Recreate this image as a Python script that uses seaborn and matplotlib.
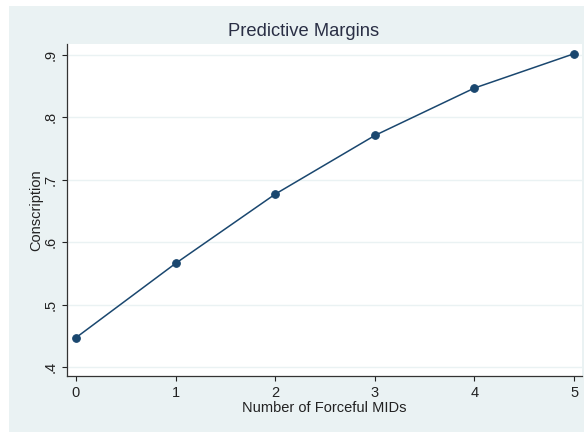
import matplotlib
matplotlib.use("Agg")
import matplotlib.pyplot as plt
import seaborn as sns
import pandas as pd
from matplotlib.patches import Rectangle

# Predictive margins of conscription by number of forceful MIDs
forceful_mids = [0, 1, 2, 3, 4, 5]
conscription = [0.447, 0.566, 0.677, 0.771, 0.847, 0.902]
y_ticks = [0.4, 0.5, 0.6, 0.7, 0.8, 0.9]
y_tick_labels = [".4", ".5", ".6", ".7", ".8", ".9"]

df = pd.DataFrame({"mids": forceful_mids, "cons": conscription})

sns.set_theme(style="white")
plt.rcParams["font.family"] = ["Liberation Sans", "DejaVu Sans"]

navy = "#1a476f"
bg = "#eaf2f3"

fig = plt.figure(figsize=(5.84, 4.32), dpi=100)
fig.patch.set_facecolor("white")
fig.patches.append(Rectangle((9 / 584, 0), 1 - 9 / 584, 1 - 6 / 432,
                             transform=fig.transFigure, facecolor=bg,
                             edgecolor="none", zorder=-10))

ax = fig.add_axes([67 / 584, 56 / 432, (582 - 67) / 584, (376 - 44) / 432])
ax.set_facecolor("white")

sns.lineplot(data=df, x="mids", y="cons", ax=ax, color=navy, linewidth=1.1,
             marker="o", markersize=5.5, markeredgecolor=navy,
             markerfacecolor=navy)

ax.set_xlim(-0.09, 5.08)
ax.set_ylim(0.3856, 0.9176)
ax.set_xticks(forceful_mids)
ax.set_yticks(y_ticks)
ax.set_yticklabels(y_tick_labels, rotation=90, va="center")
ax.tick_params(axis="both", labelsize=10.5, colors="#222222",
               length=3.5, width=0.8, direction="out", left=True, bottom=True)
ax.yaxis.grid(True, color=bg, linewidth=1.0)
ax.xaxis.grid(False)

for side in ("top", "right"):
    ax.spines[side].set_visible(False)
for side in ("left", "bottom"):
    ax.spines[side].set_color("#333333")
    ax.spines[side].set_linewidth(0.9)

ax.set_xlabel("Number of Forceful MIDs", fontsize=10.5, color="#222222", labelpad=1)
ax.set_ylabel("Conscription", fontsize=10.5, color="#222222", labelpad=0)
fig.text(303.5 / 584, 1 - 32 / 432, "Predictive Margins", fontsize=13.2,
         color="#2a2f45", ha="center", va="center")

fig.savefig("out.png", dpi=100, facecolor=fig.get_facecolor())
